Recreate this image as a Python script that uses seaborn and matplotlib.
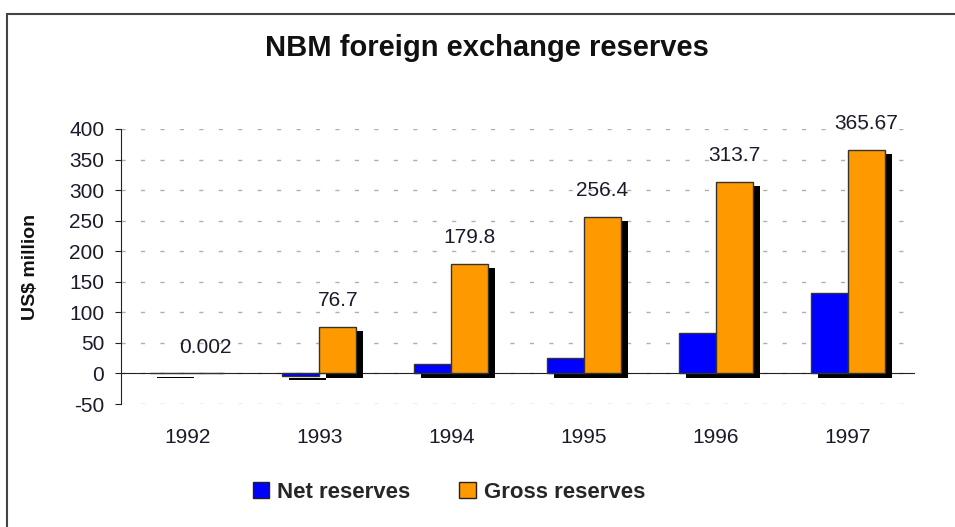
import numpy as np
import pandas as pd
import matplotlib
matplotlib.use('Agg')
import matplotlib.pyplot as plt
import matplotlib.patheffects as pe
from matplotlib.patches import Rectangle, Patch
import seaborn as sns

# Chart data
years = ['1992', '1993', '1994', '1995', '1996', '1997']
net_reserves = [1.0, -4.0, 16.0, 25.5, 66.5, 131.0]
gross_reserves = [0.002, 76.7, 179.8, 256.4, 313.7, 365.67]
gross_labels = ['0.002', '76.7', '179.8', '256.4', '313.7', '365.67']
series_colors = {'Net reserves': '#0000FF', 'Gross reserves': '#FF9900'}

df = pd.DataFrame({
    'Year': years * 2,
    'Value': net_reserves + gross_reserves,
    'Series': ['Net reserves'] * len(years) + ['Gross reserves'] * len(years),
})

sns.set_style('white')
plt.rcParams['font.family'] = ['Liberation Sans', 'DejaVu Sans']
plt.rcParams['axes.unicode_minus'] = False

fig = plt.figure(figsize=(9.55, 5.27), dpi=100)
ax = fig.add_axes([121 / 955, 1 - 404 / 527, (914 - 121) / 955, (404 - 129) / 527])

sns.barplot(data=df, x='Year', y='Value', hue='Series', palette=series_colors,
            width=0.56, gap=0, edgecolor='#333333', linewidth=1,
            saturation=1, ax=ax, zorder=3, legend=False)

# drop shadow behind each bar
for bar in ax.patches:
    bar.set_path_effects([pe.SimplePatchShadow(offset=(5, -3), shadow_rgbFace='black', alpha=1.0),
                          pe.Normal()])

# value labels on the gross bars
gross_bars = ax.containers[1]
for bar, lab in zip(gross_bars, gross_labels):
    ax.annotate(lab, (bar.get_x() + bar.get_width() / 2, bar.get_height()),
                xytext=(0, 19), textcoords='offset points', ha='center', va='center',
                fontsize=15, color='#1a1a2a', annotation_clip=False)

ax.set_ylim(-50, 400)
ax.set_xlim(-0.5, 5.5)
ax.set_yticks(np.arange(-50, 401, 50))
ax.yaxis.grid(True, linestyle=(0, (3, 11)), color='#b0b0b0', linewidth=1, zorder=0)
ax.set_axisbelow(True)

for s in ['top', 'right']:
    ax.spines[s].set_visible(False)
ax.spines['left'].set_color('#222222')
ax.spines['bottom'].set_color('#222222')
ax.spines['bottom'].set_position(('data', 0))

ax.set_xticks(np.arange(len(years)))
ax.set_xticks(np.arange(0.5, 6, 1), minor=True)
ax.tick_params(axis='x', which='major', length=0, pad=39, labelsize=15, labelcolor='#1a1a2a')
ax.tick_params(axis='x', which='minor', length=4, direction='out', color='#222222')
ax.tick_params(axis='y', length=4, direction='out', color='#222222', labelsize=15,
               labelcolor='#1a1a2a', left=True, pad=8)

ax.set_xlabel('')
ax.set_ylabel('US$ million', fontsize=14, fontweight='bold', color='#111111')
ax.yaxis.set_label_coords(-0.103, 0.5)

fig.suptitle('NBM foreign exchange reserves', fontsize=21, fontweight='bold', x=0.51, y=0.935,
             color='#111111')

handles = [Patch(facecolor=c, edgecolor='#222222', linewidth=1) for c in series_colors.values()]
fig.legend(handles, list(series_colors.keys()), loc='center', bbox_to_anchor=(0.47, 0.066), ncol=2,
           frameon=False, handlelength=0.75, handleheight=0.75, handletextpad=0.35, columnspacing=2.2,
           prop={'size': 16, 'weight': 'bold'})

# outer frame
fig.patches.append(Rectangle((7 / 955, -0.02), 1.05, 1 - 14 / 527 + 0.02, transform=fig.transFigure,
                             fill=False, edgecolor='#444444', linewidth=1.5))

fig.savefig('out.png', dpi=100, facecolor='white')
